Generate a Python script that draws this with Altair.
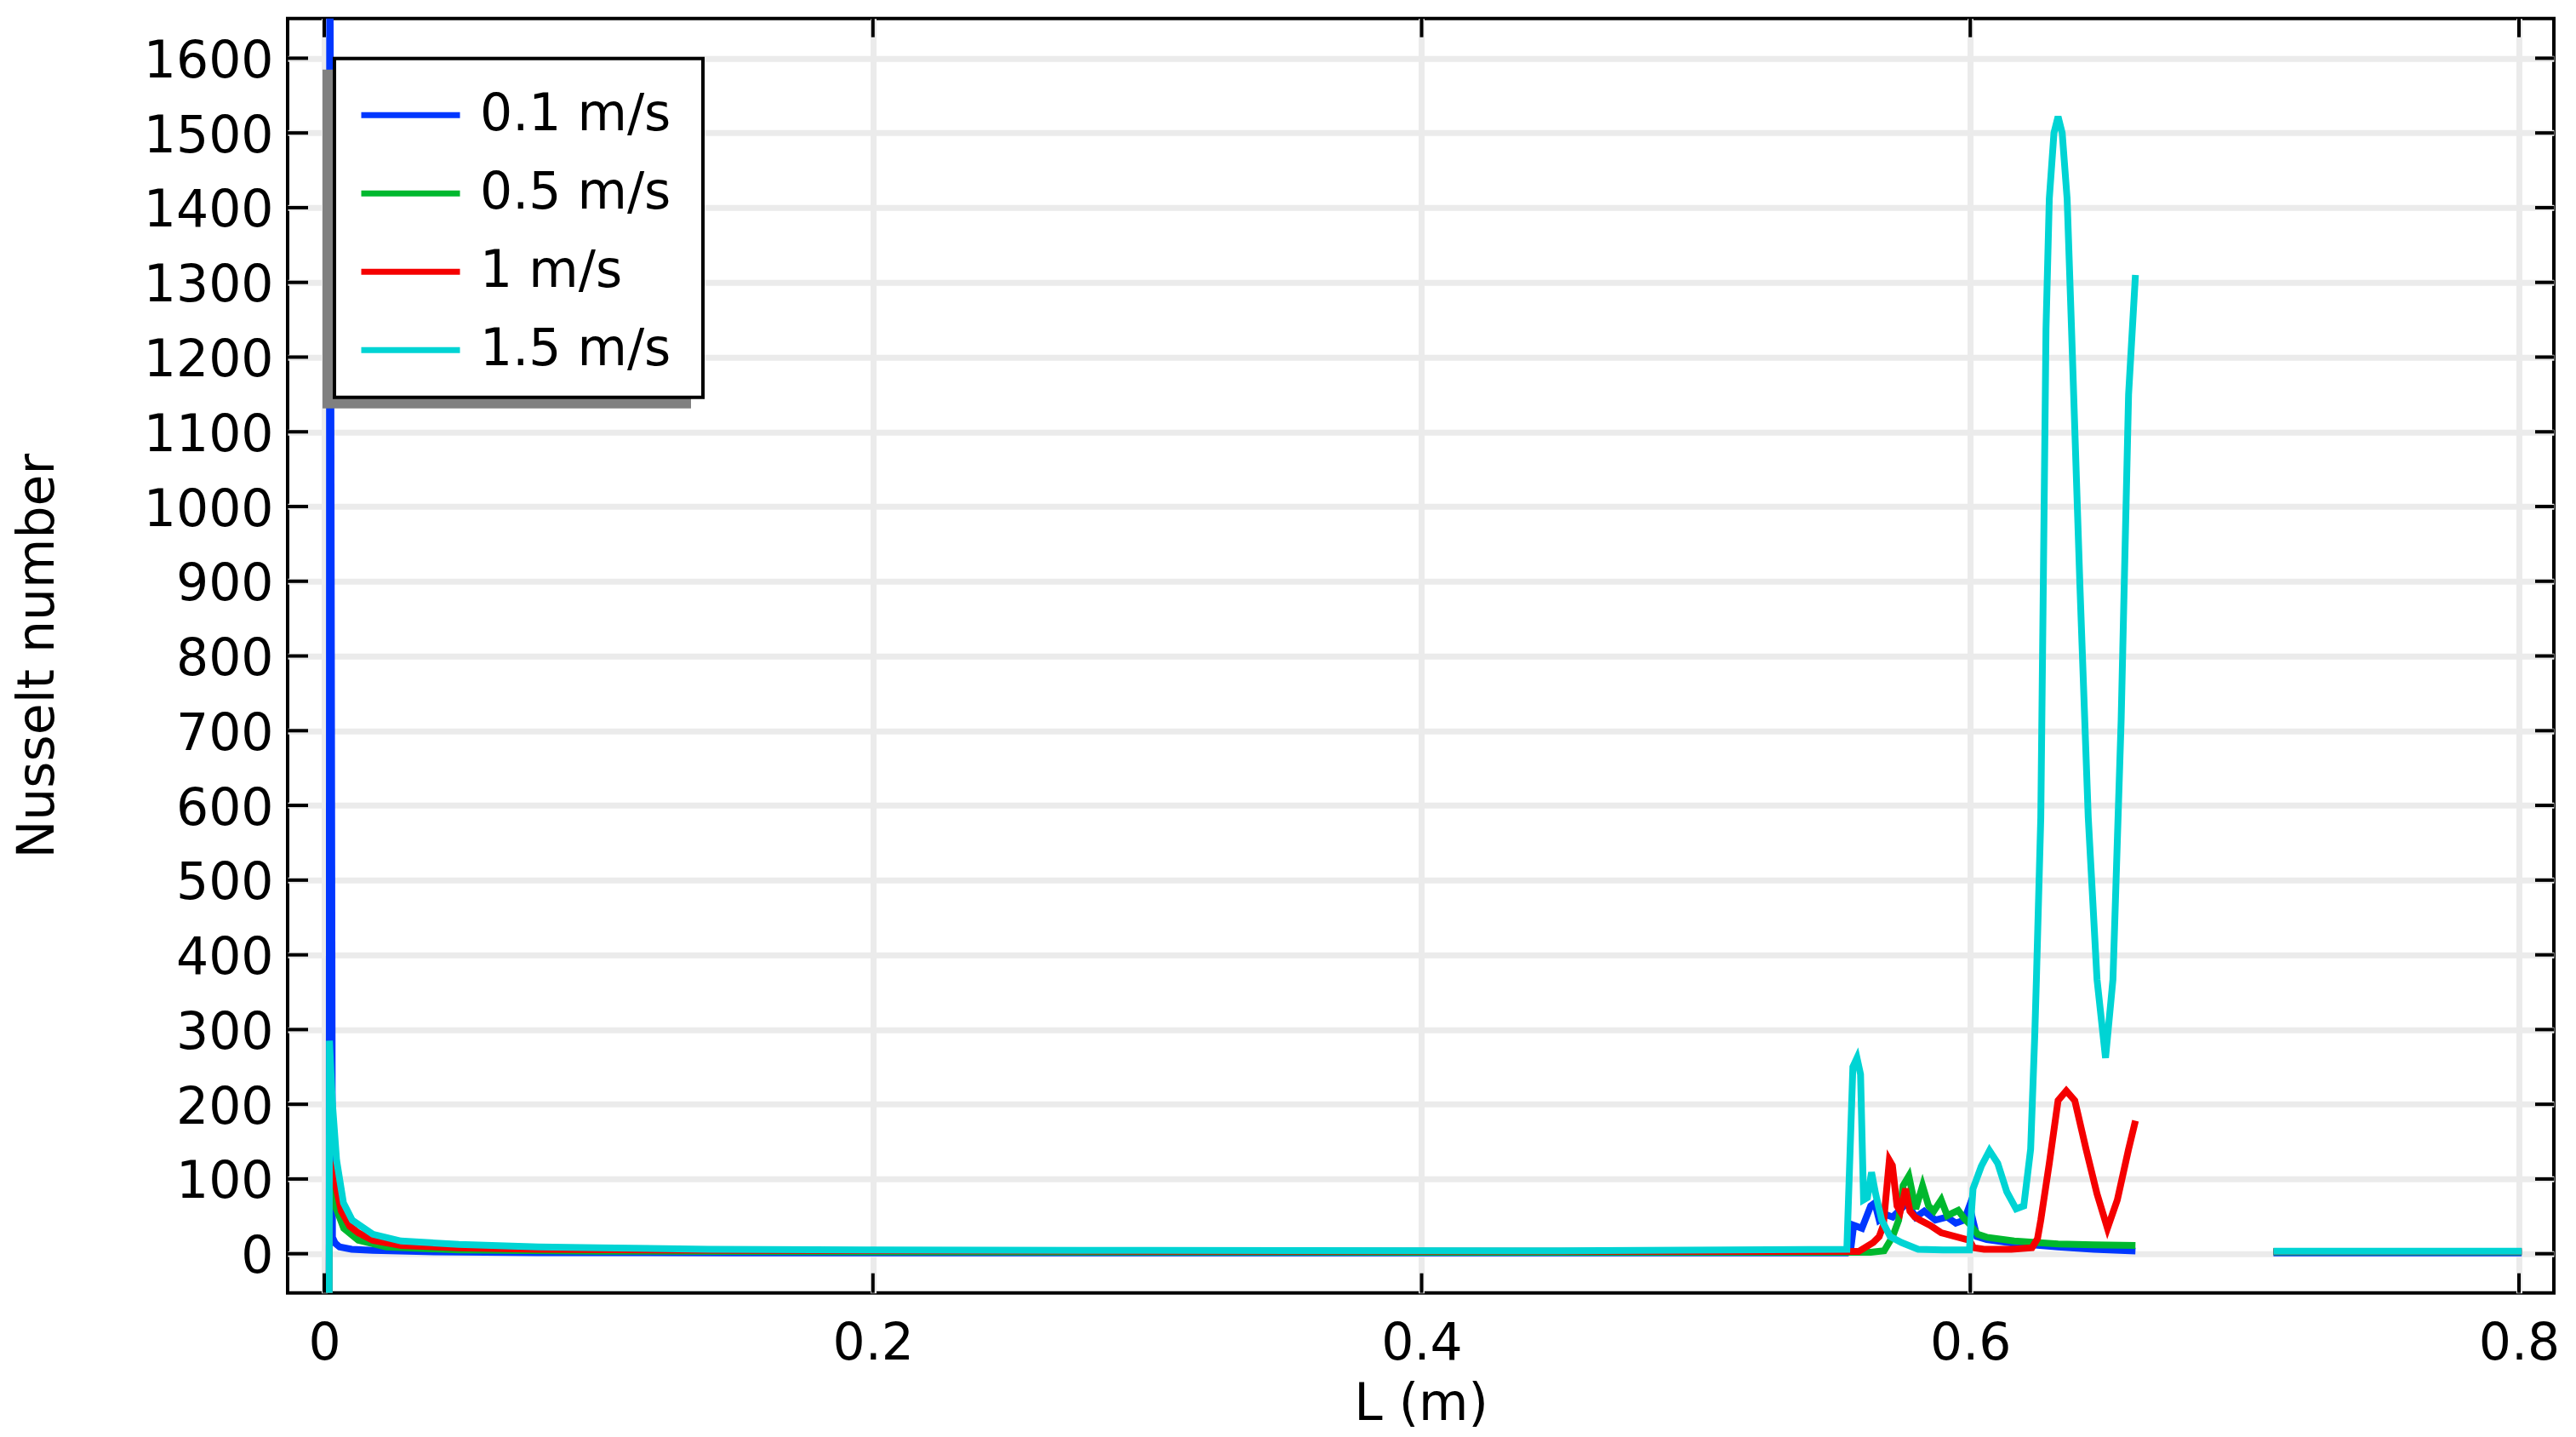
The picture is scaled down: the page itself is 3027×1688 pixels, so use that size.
import altair as alt
import pandas as pd

# ---------------- data ----------------
series_names = ["0.1 m/s", "0.5 m/s", "1 m/s", "1.5 m/s"]
series_colors = ["#0037ff", "#00b82e", "#f50000", "#00d4d4"]

blue_x = [0.0018, 0.0020, 0.0030, 0.0040, 0.0056, 0.0100, 0.0177, 0.0400, 0.0776, 0.1500,
          0.3000, 0.4500, 0.5550, 0.5565, 0.5575, 0.5605, 0.5637, 0.5652, 0.5668, 0.5695,
          0.5717, 0.5739, 0.5770, 0.5801, 0.5832, 0.5873, 0.5916, 0.5947, 0.5978, 0.5997,
          0.6024, 0.6060, 0.6160, 0.6320, 0.6450, 0.6602]
blue_y = [-100, 2000, 22, 14, 9, 6, 4.5, 2.5, 1.5, 1.2,
          1, 1, 1, 8, 38, 34, 64, 68, 45, 52,
          49, 57, 68, 49, 57, 45, 49, 41, 45, 64,
          23, 19, 14, 9, 6, 3.5]

green_x = [0.0018, 0.0019, 0.0040, 0.0071, 0.0124, 0.0226, 0.0487, 0.1000, 0.2000, 0.4000,
           0.5550, 0.5637, 0.5686, 0.5717, 0.5739, 0.5755, 0.5776, 0.5801, 0.5826, 0.5848,
           0.5867, 0.5894, 0.5916, 0.5956, 0.5978, 0.5997, 0.6027, 0.6060, 0.6160, 0.6320,
           0.6450, 0.6602]
green_y = [-100, 90, 64, 34, 18, 9, 5, 3.5, 2.5, 2,
           2, 2, 4, 23, 45, 91, 104, 60, 91, 64,
           57, 72, 51, 58, 47, 40, 26, 22, 17, 13,
           12, 11]

red_x = [0.0018, 0.0019, 0.0040, 0.0062, 0.0093, 0.0124, 0.0177, 0.0280, 0.0490, 0.0780,
         0.1500, 0.3000, 0.5550, 0.5593, 0.5646, 0.5668, 0.5683, 0.5705, 0.5716, 0.5733,
         0.5745, 0.5764, 0.5780, 0.5798, 0.5817, 0.5854, 0.5894, 0.5947, 0.5997, 0.6012,
         0.6050, 0.6150, 0.6225, 0.6245, 0.6257, 0.6288, 0.6320, 0.6350, 0.6381, 0.6422,
         0.6462, 0.6500, 0.6536, 0.6577, 0.6602]
red_y = [-100, 125, 95, 57, 37, 28, 18, 11, 8, 6,
         4.5, 3.5, 3, 3, 15, 23, 38, 125, 118, 64,
         57, 87, 57, 49, 45, 38, 28, 23, 18, 8,
         6, 6, 8, 20, 45, 121, 205, 218, 205, 140,
         80, 34, 72, 140, 178]

cyan_x = [0.0018, 0.0019, 0.0030, 0.0045, 0.0070, 0.0102, 0.0177, 0.0280, 0.0490, 0.0780,
          0.1000, 0.1400, 0.2000, 0.3000, 0.4500, 0.5550, 0.5572, 0.5587, 0.5600, 0.5611,
          0.5625, 0.5640, 0.5655, 0.5677, 0.5708, 0.5749, 0.5810, 0.5900, 0.5997, 0.6005,
          0.6010, 0.6040, 0.6070, 0.6100, 0.6133, 0.6167, 0.6195, 0.6220, 0.6235, 0.6241,
          0.6257, 0.6266, 0.6276, 0.6288, 0.6305, 0.6320, 0.6335, 0.6353, 0.6369, 0.6400,
          0.6430, 0.6462, 0.6493, 0.6520, 0.6550, 0.6577, 0.6602]
cyan_y = [-100, 285, 200, 125, 68, 45, 26, 17, 12.5, 9,
          8, 6, 5, 4.5, 4, 6, 250, 262, 240, 72,
          75, 109, 80, 45, 23, 15, 6, 5, 5, 60,
          87, 117, 138, 121, 83, 60, 64, 140, 292, 367,
          584, 890, 1238, 1412, 1500, 1522, 1500, 1412, 1238, 890,
          584, 367, 262, 367, 715, 1150, 1310]

# separate outlet segment (after the gap)
tail_x = [0.7105, 0.8010]
tail_blue = [1.0, 1.0]
tail_green = [2.5, 2.5]
tail_red = [3.0, 3.0]
tail_cyan = [3.5, 3.5]

x_ticks = [0, 0.2, 0.4, 0.6, 0.8]
y_ticks = [0, 100, 200, 300, 400, 500, 600, 700, 800, 900, 1000,
           1100, 1200, 1300, 1400, 1500, 1600]

# ---------------- table ----------------
main = [(blue_x, blue_y), (green_x, green_y), (red_x, red_y), (cyan_x, cyan_y)]
tails = [tail_blue, tail_green, tail_red, tail_cyan]
rows = []
for name, (xs, ys), ty in zip(series_names, main, tails):
    for i, (xv, yv) in enumerate(zip(xs, ys)):
        rows.append({"series": name, "seg": name + " a", "order": i, "L": xv, "Nu": yv})
    for i, (xv, yv) in enumerate(zip(tail_x, ty)):
        rows.append({"series": name, "seg": name + " b", "order": i, "L": xv, "Nu": yv})
df = pd.DataFrame(rows)

W, H = 2663, 1497
FONT = "DejaVu Sans"
xscale = alt.Scale(domain=[-0.01334, 0.81272], nice=False, zero=False)
yscale = alt.Scale(domain=[-52.4, 1653.2], nice=False, zero=False)

lines = alt.Chart(df).mark_line(strokeWidth=8, clip=True).encode(
    x=alt.X("L:Q", scale=xscale,
            axis=alt.Axis(values=x_ticks, format="~g", title="L (m)", domain=False,
                          ticks=False, tickSize=0, labelPadding=31, grid=True,
                          titleY=149, titleBaseline="alphabetic")),
    y=alt.Y("Nu:Q", scale=yscale,
            axis=alt.Axis(values=y_ticks, format="d", title="Nusselt number",
                          domain=False, ticks=False, tickSize=0, labelPadding=17,
                          labelOffset=4, grid=True, titleX=-276, titleY=H / 2,
                          titleAngle=270, titleAlign="center",
                          titleBaseline="alphabetic")),
    color=alt.Color("series:N",
                    scale=alt.Scale(domain=series_names, range=series_colors),
                    legend=alt.Legend(orient="none", legendX=83, legendY=52,
                                      title=None, symbolType="stroke",
                                      symbolSize=13456, symbolStrokeWidth=7,
                                      labelFontSize=60, labelFont=FONT,
                                      labelColor="black", labelOffset=20,
                                      rowPadding=0, padding=0, labelLimit=0)),
    detail="seg:N",
    order="order:Q",
)

deco = alt.Data(values=[{"k": 1}])
shadow = alt.Chart(deco).mark_rect(color="#808080").encode(
    x=alt.value(41), x2=alt.value(474), y=alt.value(60), y2=alt.value(458))
box = alt.Chart(deco).mark_rect(fill="white", stroke="black", strokeWidth=4).encode(
    x=alt.value(55), x2=alt.value(488), y=alt.value(47), y2=alt.value(445))

ytick_df = pd.DataFrame({"Nu": y_ticks})
xtick_df = pd.DataFrame({"L": x_ticks})
rule_style = dict(color="black", strokeWidth=4)
left_ticks = alt.Chart(ytick_df).mark_rule(**rule_style).encode(
    y=alt.Y("Nu:Q", scale=yscale), x=alt.value(0), x2=alt.value(24))
right_ticks = alt.Chart(ytick_df).mark_rule(**rule_style).encode(
    y=alt.Y("Nu:Q", scale=yscale), x=alt.value(W), x2=alt.value(W - 22))
bottom_ticks = alt.Chart(xtick_df).mark_rule(**rule_style).encode(
    x=alt.X("L:Q", scale=xscale), y=alt.value(H), y2=alt.value(H - 23))
top_ticks = alt.Chart(xtick_df).mark_rule(**rule_style).encode(
    x=alt.X("L:Q", scale=xscale), y=alt.value(0), y2=alt.value(22))

chart = alt.layer(
    lines, shadow, box, left_ticks, right_ticks, bottom_ticks, top_ticks
).properties(
    width=W, height=H,
    padding={"left": 330, "top": 13.7, "right": 16, "bottom": 165},
    autosize=alt.AutoSizeParams(type="none"),
    background="white",
).configure_view(
    stroke="black", strokeWidth=4
).configure_axis(
    labelFont=FONT, labelFontSize=60, labelColor="black",
    titleFont=FONT, titleFontSize=60, titleFontWeight="normal", titleColor="black",
    gridColor="#ebebeb", gridWidth=7, gridOpacity=1,
)

chart.save("out.html", embed_options={"renderer": "svg", "actions": False})
